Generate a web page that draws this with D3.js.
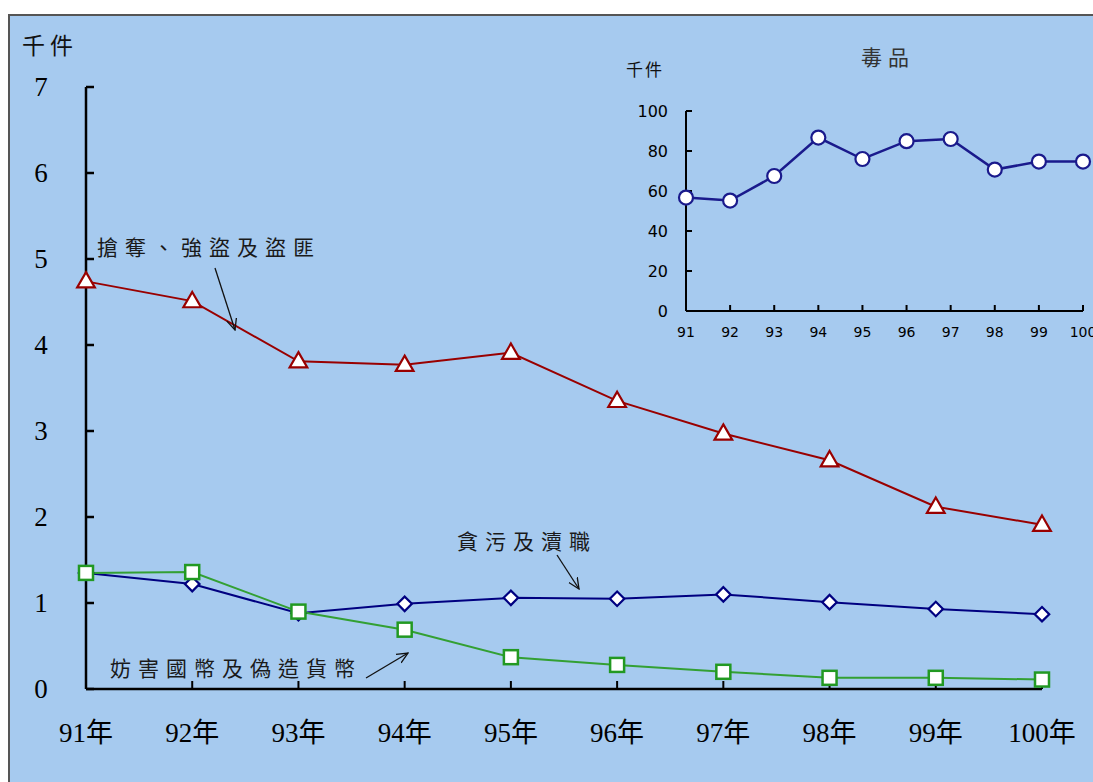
<!DOCTYPE html>
<html>
<head>
<meta charset="utf-8">
<script src="https://cdn.jsdelivr.net/npm/d3@7"></script>
<style>
  body { margin: 0; background: #fff; }
</style>
</head>
<body>
<div id="chart"></div>
<script>
"use strict";

const years = [91, 92, 93, 94, 95, 96, 97, 98, 99, 100];
const robbery = [4.74, 4.51, 3.81, 3.77, 3.91, 3.35, 2.97, 2.66, 2.12, 1.91];
const corruption = [1.35, 1.22, 0.88, 0.99, 1.06, 1.05, 1.10, 1.01, 0.93, 0.87];
const currency = [1.35, 1.36, 0.90, 0.69, 0.37, 0.28, 0.20, 0.13, 0.13, 0.11];
const drugs = [56.7, 55.2, 67.5, 86.7, 76, 84.9, 86, 70.7, 74.7, 74.7];
const mainTicks = [0, 1, 2, 3, 4, 5, 6, 7];
const insetTicks = [0, 20, 40, 60, 80, 100];

const W = 1093, H = 782;
const serif = '"Liberation Serif", "Noto Sans CJK TC", serif';
const cjk = '"Noto Sans CJK TC", sans-serif';
const sans = '"DejaVu Sans", sans-serif';

let svg = d3.select('#chart').append('svg')
  .attr('width', W)
  .attr('height', H)
  .attr('font-family', serif);

svg.append('defs').append('marker')
  .attr('id', 'arrow')
  .attr('viewBox', '0 0 12 12')
  .attr('refX', 11).attr('refY', 6)
  .attr('markerWidth', 12).attr('markerHeight', 12)
  .attr('markerUnits', 'userSpaceOnUse')
  .attr('orient', 'auto')
  .append('path')
  .attr('d', 'M0,1 L11,6 L0,11')
  .attr('fill', 'none')
  .attr('stroke', '#111')
  .attr('stroke-width', 1.3);

svg.append('rect')
  .attr('x', 9).attr('y', 15)
  .attr('width', W).attr('height', H)
  .attr('fill', '#a6caef')
  .attr('stroke', '#555')
  .attr('stroke-width', 2);

// main chart
let x = d3.scalePoint().domain(years).range([86, 1042]);
let y = d3.scaleLinear().domain([0, 7]).range([689, 87]);

let line = d3.line()
  .x((d, i) => x(years[i]))
  .y(d => y(d));

let g = svg.append('g');

g.append('line')
  .attr('x1', 86).attr('x2', 86)
  .attr('y1', y(7)).attr('y2', y(0))
  .attr('stroke', '#000').attr('stroke-width', 2.5);
g.append('line')
  .attr('x1', x(91)).attr('x2', x(100))
  .attr('y1', y(0)).attr('y2', y(0))
  .attr('stroke', '#000').attr('stroke-width', 2.5);

g.selectAll('.ytick').data(mainTicks).join('line')
  .attr('x1', 86).attr('x2', 94)
  .attr('y1', d => y(d)).attr('y2', d => y(d))
  .attr('stroke', '#000').attr('stroke-width', 2.5);

g.selectAll('.ylab').data(mainTicks).join('text')
  .attr('x', 41).attr('y', d => y(d) + 9)
  .attr('text-anchor', 'middle')
  .attr('font-size', 27)
  .text(d => d);

g.selectAll('.xtick').data(years).join('line')
  .attr('x1', d => x(d)).attr('x2', d => x(d))
  .attr('y1', y(0)).attr('y2', y(0) - 8)
  .attr('stroke', '#000').attr('stroke-width', 2);

g.selectAll('.xlab').data(years).join('text')
  .attr('x', d => x(d)).attr('y', 742)
  .attr('text-anchor', 'middle')
  .attr('font-size', 27)
  .text(d => d + '年');

g.append('text')
  .attr('x', 22).attr('y', 54)
  .attr('font-size', 23)
  .attr('font-family', cjk)
  .attr('letter-spacing', 5)
  .attr('fill', '#111')
  .text('千件');

// series
g.append('path').datum(robbery)
  .attr('d', line).attr('fill', 'none')
  .attr('stroke', '#990000').attr('stroke-width', 2);
g.append('path').datum(corruption)
  .attr('d', line).attr('fill', 'none')
  .attr('stroke', '#000080').attr('stroke-width', 2);
g.append('path').datum(currency)
  .attr('d', line).attr('fill', 'none')
  .attr('stroke', '#33a033').attr('stroke-width', 2);

let tri = d3.symbol().type(d3.symbolTriangle).size(135);
g.selectAll('.tri').data(robbery).join('path')
  .attr('d', tri)
  .attr('transform', (d, i) => 'translate(' + x(years[i]) + ',' + (y(d) + 1) + ')')
  .attr('fill', '#fff').attr('stroke', '#990000').attr('stroke-width', 2.2);

let dia = d3.symbol().type(d3.symbolSquare).size(105);
g.selectAll('.dia').data(corruption).join('path')
  .attr('d', dia)
  .attr('transform', (d, i) => 'translate(' + x(years[i]) + ',' + y(d) + ') rotate(45)')
  .attr('fill', '#fff').attr('stroke', '#000080').attr('stroke-width', 2.2);

g.selectAll('.sq').data(currency).join('rect')
  .attr('x', (d, i) => x(years[i]) - 7)
  .attr('y', d => y(d) - 7)
  .attr('width', 14).attr('height', 14)
  .attr('fill', '#fff').attr('stroke', '#229922').attr('stroke-width', 2.5);

// annotations
function note(text, tx, ty, x1, y1, x2, y2) {
  g.append('text')
    .attr('x', tx).attr('y', ty)
    .attr('font-size', 21)
    .attr('font-family', cjk)
    .attr('letter-spacing', 7)
    .attr('fill', '#1a1a1a')
    .text(text);
  g.append('line')
    .attr('x1', x1).attr('y1', y1)
    .attr('x2', x2).attr('y2', y2)
    .attr('stroke', '#111').attr('stroke-width', 1.3)
    .attr('marker-end', 'url(#arrow)');
}
note('搶奪、強盜及盜匪', 97, 255, 215, 268, 235, 330);
note('貪污及瀆職', 457, 549, 557, 555, 579, 589);
note('妨害國幣及偽造貨幣', 110, 676, 366, 678, 408, 653);

// inset: drugs
let ix = d3.scalePoint().domain(years).range([686, 1083]);
let iy = d3.scaleLinear().domain([0, 100]).range([311, 111]);

let ig = svg.append('g');
ig.append('line')
  .attr('x1', 686).attr('x2', 686)
  .attr('y1', iy(100)).attr('y2', iy(0))
  .attr('stroke', '#000').attr('stroke-width', 2);
ig.append('line')
  .attr('x1', ix(91)).attr('x2', ix(100))
  .attr('y1', iy(0)).attr('y2', iy(0))
  .attr('stroke', '#000').attr('stroke-width', 2);

ig.selectAll('.iyt').data(insetTicks).join('line')
  .attr('x1', 686).attr('x2', 692)
  .attr('y1', d => iy(d)).attr('y2', d => iy(d))
  .attr('stroke', '#000').attr('stroke-width', 2);
ig.selectAll('.iyl').data(insetTicks).join('text')
  .attr('x', 668).attr('y', d => iy(d) + 6)
  .attr('text-anchor', 'end')
  .attr('font-size', 16)
  .attr('font-family', sans)
  .text(d => d);

ig.selectAll('.ixt').data(years).join('line')
  .attr('x1', d => ix(d)).attr('x2', d => ix(d))
  .attr('y1', iy(0)).attr('y2', iy(0) - 6)
  .attr('stroke', '#000').attr('stroke-width', 2);
ig.selectAll('.ixl').data(years).join('text')
  .attr('x', d => ix(d)).attr('y', 337)
  .attr('text-anchor', 'middle')
  .attr('font-size', 14)
  .attr('font-family', sans)
  .text(d => d);

ig.append('text')
  .attr('x', 626).attr('y', 76)
  .attr('font-size', 17)
  .attr('font-family', cjk)
  .attr('letter-spacing', 2)
  .attr('fill', '#111')
  .text('千件');
ig.append('text')
  .attr('x', 888).attr('y', 65)
  .attr('text-anchor', 'middle')
  .attr('font-size', 21)
  .attr('font-family', cjk)
  .attr('letter-spacing', 6)
  .attr('fill', '#333')
  .text('毒品');

ig.append('path').datum(drugs)
  .attr('d', d3.line().x((d, i) => ix(years[i])).y(d => iy(d)))
  .attr('fill', 'none')
  .attr('stroke', '#1a1a8c').attr('stroke-width', 2.5);
ig.selectAll('circle').data(drugs).join('circle')
  .attr('cx', (d, i) => ix(years[i]))
  .attr('cy', d => iy(d))
  .attr('r', 7)
  .attr('fill', '#fff')
  .attr('stroke', '#1a1a8c').attr('stroke-width', 2.2);
</script>
</body>
</html>
